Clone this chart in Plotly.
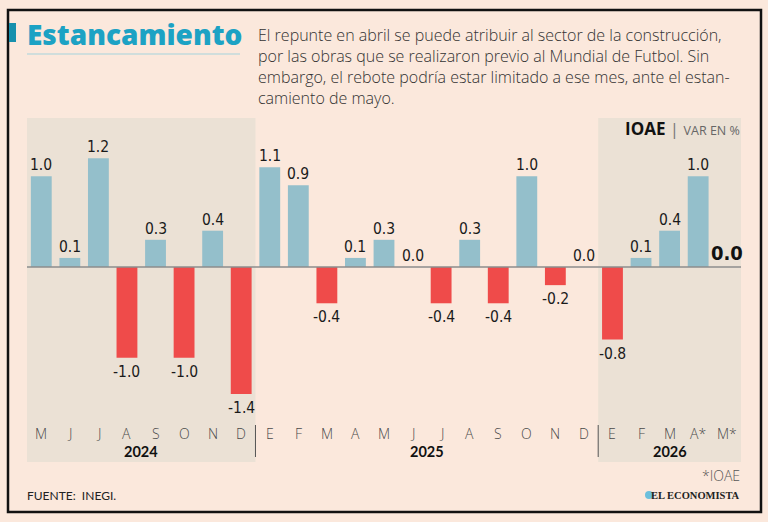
import plotly.graph_objects as go

# ---- data ----
months = ["M", "J", "J", "A", "S", "O", "N", "D",
          "E", "F", "M", "A", "M", "J", "J", "A", "S", "O", "N", "D",
          "E", "F", "M", "A*", "M*"]
values = [1.0, 0.1, 1.2, -1.0, 0.3, -1.0, 0.4, -1.4,
          1.1, 0.9, -0.4, 0.1, 0.3, 0.0, -0.4, 0.3, -0.4, 1.0, -0.2, 0.0,
          -0.8, 0.1, 0.4, 1.0, 0.0]
years = ["2024", "2025", "2026"]
year_counts = [8, 12, 5]
shaded_years = ["2024", "2026"]

title = "Estancamiento"
subtitle_lines = [
    "El repunte en abril se puede atribuir al sector de la construcción,",
    "por las obras que se realizaron previo al Mundial de Futbol. Sin",
    "embargo, el rebote podría estar limitado a ese mes, ante el estan-",
    "camiento de mayo.",
]

# ---- styling ----
BG = "#fbe8dc"
SHADE = "#ebe1d5"
POS = "#94bfcb"
NEG = "#ef4b4a"
TEAL = "#1ca2c4"
NARROW = "DejaVu Sans Condensed, Liberation Sans Narrow, sans-serif"
LIGHT = "Open Sans, Lato, sans-serif"

W, H = 768, 522
L, R, T, B = 27, 741, 118, 462
def px(xp):
    return (xp - L) / (R - L)
def py(yp):
    return (B - yp) / (B - T)

unit = 90.7
y_top = (267 - T) / unit
y_bot = -(B - 267) / unit
def dy(yp):
    return -(yp - 267) / unit

n = len(values)
xs = list(range(n))
colors = [POS if v >= 0 else NEG for v in values]

fig = go.Figure()
fig.add_trace(go.Bar(x=xs, y=values, marker=dict(color=colors, line=dict(width=0)),
                     width=0.73, hoverinfo="skip"))

shapes = []
annotations = []

# shaded year blocks
start = 0
bounds = {}
for yr, c in zip(years, year_counts):
    bounds[yr] = (start, start + c)
    start += c
for yr in shaded_years:
    a, b = bounds[yr]
    shapes.append(dict(type="rect", xref="x", yref="paper", x0=a - 0.5, x1=b - 0.5,
                       y0=0, y1=1, fillcolor=SHADE, line=dict(width=0), layer="below"))

# zero line
shapes.append(dict(type="line", xref="paper", yref="y", x0=0, x1=1, y0=0, y1=0,
                   line=dict(color="#8c8c8c", width=1.5), layer="above"))

# year dividers
for yr in years[:-1]:
    a, b = bounds[yr]
    shapes.append(dict(type="line", xref="x", yref="y", x0=b - 0.5, x1=b - 0.5,
                       y0=dy(425), y1=dy(457), line=dict(color="#555555", width=1)))

# border
shapes.append(dict(type="rect", xref="paper", yref="paper", x0=px(8), x1=px(761),
                   y0=py(512), y1=py(10), line=dict(color="#111111", width=2.5),
                   fillcolor="rgba(0,0,0,0)", layer="above"))
# title bar + underline
shapes.append(dict(type="rect", xref="paper", yref="paper", x0=px(9), x1=px(16),
                   y0=py(42), y1=py(23), fillcolor="#1690ad", line=dict(width=0)))
shapes.append(dict(type="line", xref="paper", yref="paper", x0=px(27), x1=px(240),
                   y0=py(54), y1=py(54), line=dict(color="#a5d3dc", width=1)))
# logo dot
shapes.append(dict(type="circle", xref="paper", yref="paper", x0=px(645), x1=px(653),
                   y0=py(499), y1=py(491), fillcolor="#6cbfdc", line=dict(width=0)))

# value labels
for i, v in enumerate(values):
    txt = f"{v:.1f}"
    if i == n - 1:
        annotations.append(dict(x=i, y=v, xref="x", yref="y", text=f"<b>{txt}</b>",
                                showarrow=False, yanchor="bottom", yshift=0,
                                font=dict(family=NARROW, size=20, color="#111111")))
    elif v >= 0:
        annotations.append(dict(x=i, y=v, xref="x", yref="y", text=txt, showarrow=False,
                                yanchor="bottom", yshift=0,
                                font=dict(family=NARROW, size=15.5, color="#1a1a1a")))
    else:
        annotations.append(dict(x=i, y=v, xref="x", yref="y", text=txt, showarrow=False,
                                yanchor="top", yshift=-3,
                                font=dict(family=NARROW, size=15.5, color="#1a1a1a")))

# month labels
for i, m in enumerate(months):
    annotations.append(dict(x=i, y=dy(433), xref="x", yref="y", text=m, showarrow=False,
                            yanchor="middle",
                            font=dict(family=LIGHT, size=14, color="#4a4a4a", weight=300)))
# year labels
for yr in years:
    a, b = bounds[yr]
    annotations.append(dict(x=(a + b - 1) / 2, y=dy(451), xref="x", yref="y",
                            text=f"<b>{yr}</b>", showarrow=False, yanchor="middle",
                            font=dict(family="Lato, sans-serif", size=14.5, color="#111111")))

# title
annotations.append(dict(x=px(25), y=py(34), xref="paper", yref="paper", text=title,
                        showarrow=False, xanchor="left", yanchor="middle",
                        font=dict(family="Open Sans, sans-serif", size=28, color=TEAL, weight=800)))
# subtitle
for k, line in enumerate(subtitle_lines):
    annotations.append(dict(x=px(256), y=py(35 + k * 21), xref="paper", yref="paper",
                            text=line, showarrow=False, xanchor="left", yanchor="middle",
                            font=dict(family=LIGHT, size=16, color="#333333", weight=300)))

# IOAE header
annotations.append(dict(x=px(742), y=py(128), xref="paper", yref="paper",
                        text="<b>IOAE</b> <span style='color:#777'>| </span><span style='font-size:12.5px;color:#666'>VAR EN %</span>",
                        showarrow=False, xanchor="right", yanchor="middle",
                        font=dict(family="Open Sans, sans-serif", size=17, color="#111111")))
# footnotes
annotations.append(dict(x=px(742), y=py(475), xref="paper", yref="paper", text="*IOAE",
                        showarrow=False, xanchor="right", yanchor="middle",
                        font=dict(family=LIGHT, size=14, color="#555555", weight=300)))
annotations.append(dict(x=px(25), y=py(495), xref="paper", yref="paper", text="FUENTE:  INEGI.",
                        showarrow=False, xanchor="left", yanchor="middle",
                        font=dict(family="Lato, sans-serif", size=12, color="#222222")))
annotations.append(dict(x=px(742), y=py(495), xref="paper", yref="paper",
                        text="<b>EL ECONOMISTA</b>",
                        showarrow=False, xanchor="right", yanchor="middle",
                        font=dict(family="Liberation Serif, DejaVu Serif, serif", size=10.5, color="#222222")))

fig.update_layout(
    width=W, height=H,
    margin=dict(l=L, r=W - R, t=T, b=H - B),
    paper_bgcolor=BG, plot_bgcolor="rgba(0,0,0,0)",
    showlegend=False, bargap=0.27,
    shapes=shapes, annotations=annotations,
    xaxis=dict(range=[-0.5, n - 0.5], showgrid=False, zeroline=False, showticklabels=False,
               showline=False, fixedrange=True),
    yaxis=dict(range=[y_bot, y_top], showgrid=False, zeroline=False, showticklabels=False,
               showline=False, fixedrange=True),
)

fig.write_html("out.html")
